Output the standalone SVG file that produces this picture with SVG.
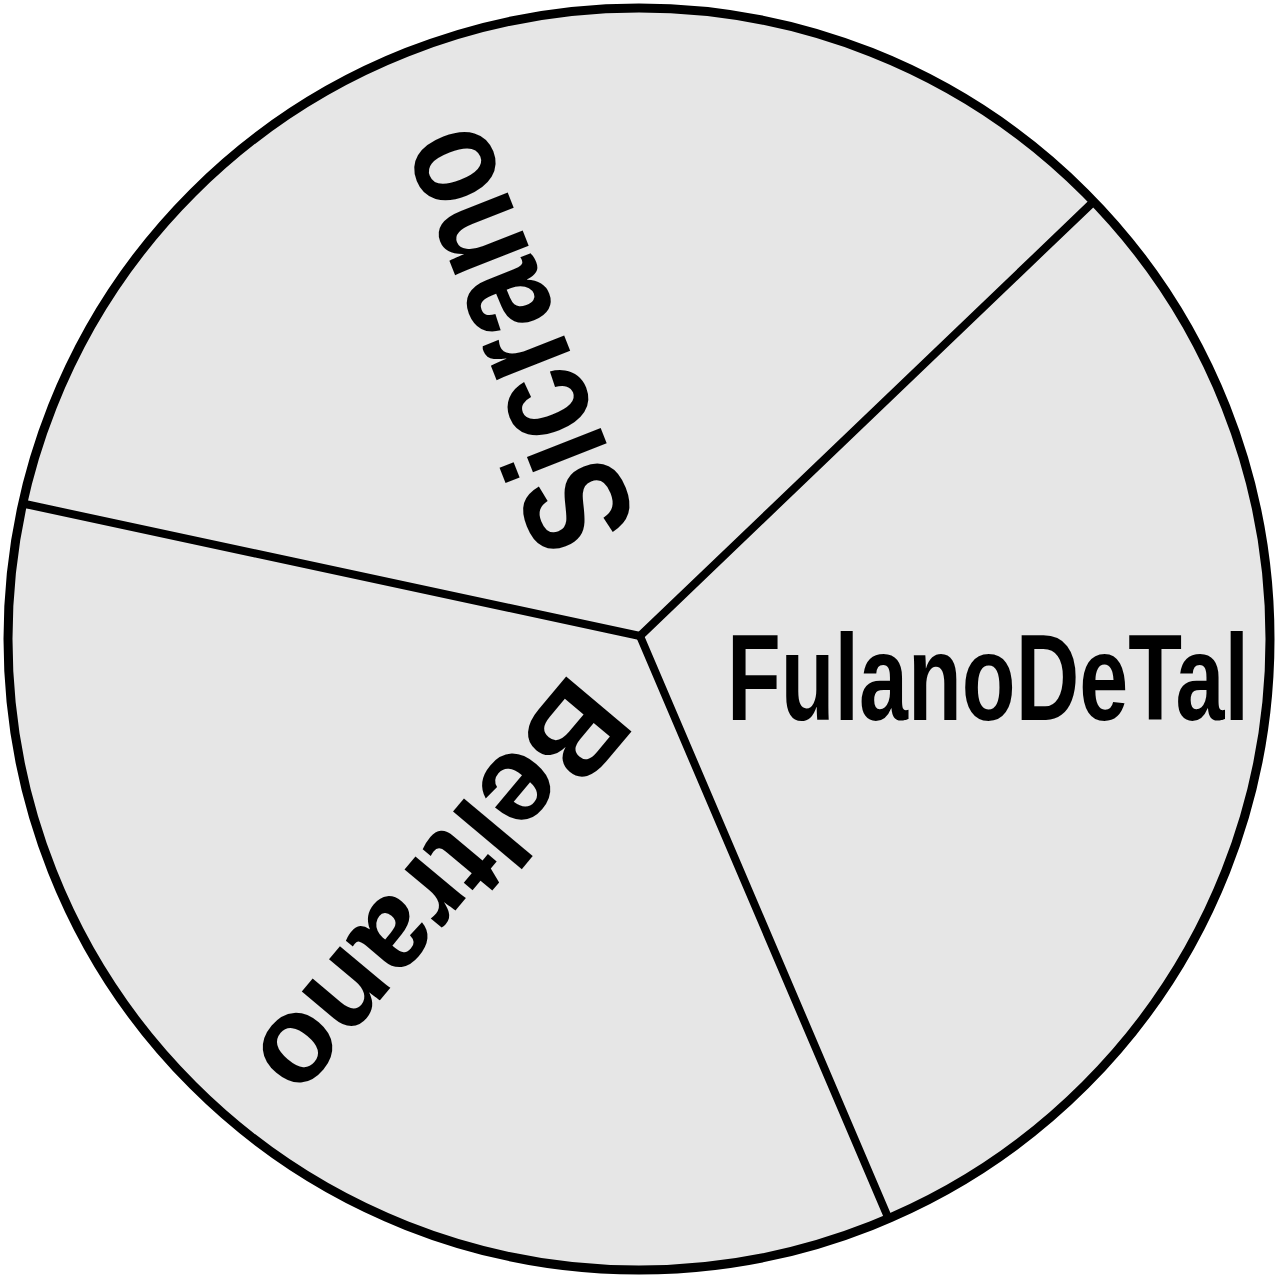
<svg xmlns="http://www.w3.org/2000/svg" width="1280" height="1280" viewBox="0 0 1280 1280">
<style>
.lbl{font-family:"Liberation Sans",Arial,sans-serif;font-weight:bold;fill:#000}
.div{stroke:#000;stroke-width:8;stroke-linecap:round;fill:none}
</style>
<rect width="1280" height="1280" fill="#fff"/>
<g id="pie">
<circle cx="639" cy="639" r="631" fill="#e6e6e6" stroke="#000" stroke-width="9"/>
</g>
<g id="connectors">
<line class="div" x1="640" y1="636" x2="1090" y2="205"/>
<line class="div" x1="640" y1="636" x2="25" y2="504"/>
<line class="div" x1="640" y1="636" x2="887" y2="1215"/>
</g>
<g id="node-fulano">
<text class="lbl" x="727" y="720" font-size="123" textLength="522" lengthAdjust="spacingAndGlyphs">FulanoDeTal</text>
</g>
<g id="node-sicrano">
<text class="lbl" font-size="150" text-anchor="middle" transform="translate(514,339) rotate(-111.5)" x="0" y="48" textLength="438" lengthAdjust="spacingAndGlyphs">Sicrano</text>
</g>
<g id="node-beltrano">
<text class="lbl" font-size="124" text-anchor="middle" transform="translate(442,890) rotate(130)" x="0" y="42">Beltrano</text>
</g>
</svg>
